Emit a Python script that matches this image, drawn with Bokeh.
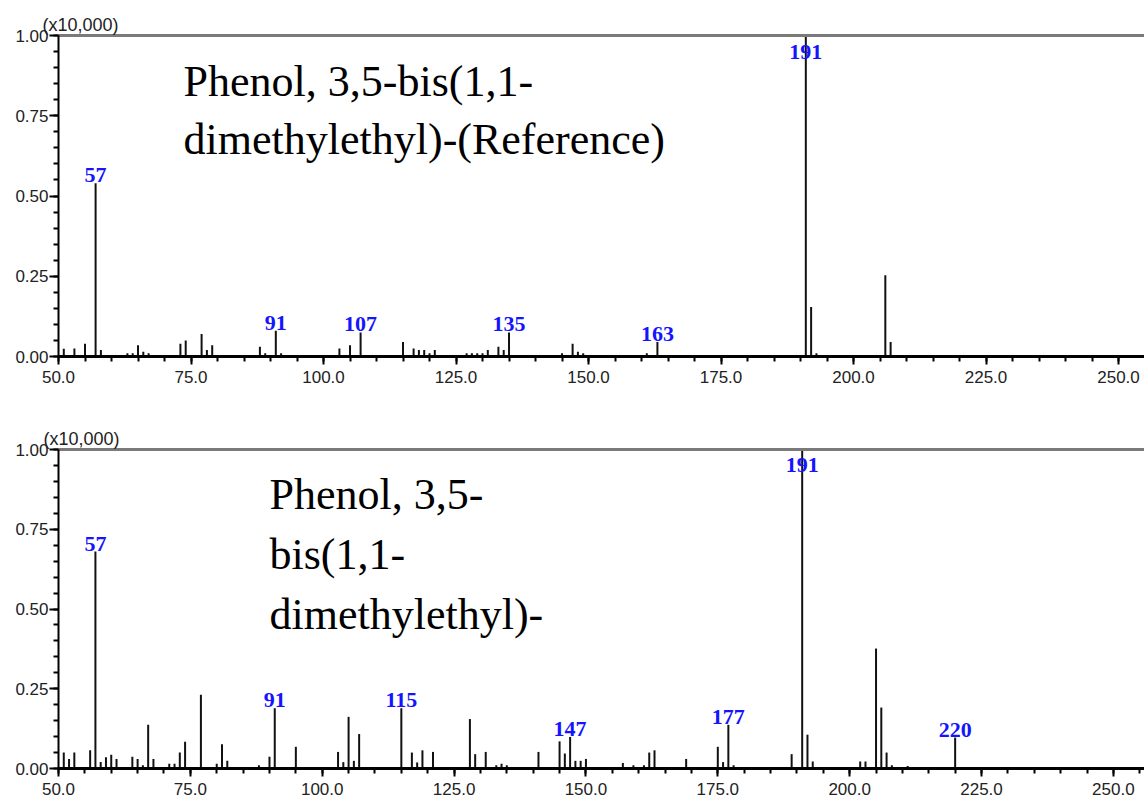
import numpy as np
from bokeh.plotting import figure
from bokeh.models import Range1d, FixedTicker, PrintfTickFormatter, LinearAxis, Label
from bokeh.layouts import column
from bokeh.embed import file_html
from bokeh.resources import INLINE
from bokeh.core.properties import value

# ---------------- data ----------------
top_mz = [51, 53, 55, 57, 58, 63, 64, 65, 66, 67, 73, 74, 77, 78, 79, 88, 89, 91, 92, 103,
          105, 107, 115, 117, 118, 119, 120, 121, 127, 128, 129, 130, 131, 133, 134, 135,
          145, 147, 148, 149, 161, 163, 191, 192, 193, 206, 207]
top_int = [0.024, 0.025, 0.04, 0.54, 0.02, 0.01, 0.01, 0.035, 0.015, 0.01, 0.04, 0.05, 0.07,
           0.02, 0.035, 0.03, 0.01, 0.08, 0.01, 0.025, 0.035, 0.075, 0.045, 0.025, 0.02, 0.02,
           0.01, 0.02, 0.01, 0.01, 0.01, 0.01, 0.02, 0.03, 0.02, 0.075, 0.01, 0.04, 0.015,
           0.01, 0.01, 0.045, 1.0, 0.154, 0.01, 0.253, 0.045]
top_labeled = [57, 91, 107, 135, 163, 191]

bot_mz = [51, 52, 53, 56, 57, 58, 59, 60, 61, 64, 65, 66, 67, 68, 71, 72, 73, 74, 77, 80,
          81, 82, 88, 90, 91, 95, 103, 104, 105, 106, 107, 115, 117, 118, 119, 121, 128, 129,
          131, 133, 134, 135, 141, 145, 146, 147, 148, 149, 150, 157, 159, 161, 162, 163, 169,
          175, 176, 177, 178, 189, 191, 192, 193, 202, 203, 205, 206, 207, 208, 211, 220]
bot_int = [0.05, 0.03, 0.05, 0.057, 0.68, 0.02, 0.035, 0.043, 0.03, 0.037, 0.03, 0.01, 0.137,
           0.03, 0.015, 0.015, 0.05, 0.084, 0.231, 0.015, 0.076, 0.024, 0.01, 0.037, 0.189,
           0.068, 0.052, 0.02, 0.162, 0.024, 0.108, 0.189, 0.05, 0.019, 0.057, 0.052, 0.155,
           0.045, 0.052, 0.01, 0.015, 0.01, 0.052, 0.085, 0.047, 0.099, 0.024, 0.024, 0.03,
           0.017, 0.01, 0.01, 0.05, 0.057, 0.03, 0.068, 0.02, 0.137, 0.01, 0.045, 1.0, 0.106,
           0.022, 0.022, 0.022, 0.376, 0.191, 0.05, 0.01, 0.008, 0.097]
bot_labeled = [57, 91, 115, 147, 177, 191, 220]

x_ticks = [50, 75, 100, 125, 150, 175, 200, 225, 250]
y_ticks = [0.0, 0.25, 0.5, 0.75, 1.0]
scale_note = "(x10,000)"
top_title = ["Phenol, 3,5-bis(1,1-", "dimethylethyl)-(Reference)"]
bot_title = ["Phenol, 3,5-", "bis(1,1-", "dimethylethyl)-"]

SANS = "Liberation Sans"
SERIF = "Liberation Serif"


def make_panel(mz, inten, labeled, title_lines, x_end, b_left, b_top, b_bottom, frame_h,
               title_x, title_y0, title_dy, note_offset):
    p = figure(width=1144, height=b_top + frame_h + b_bottom,
               x_range=Range1d(50, x_end), y_range=Range1d(0, 1.0),
               output_backend="svg", toolbar_location=None,
               min_border_left=b_left, min_border_right=0,
               min_border_top=b_top, min_border_bottom=b_bottom)
    p.outline_line_color = None
    p.xgrid.visible = False
    p.ygrid.visible = False
    p.background_fill_color = "white"

    # scale note as plot title
    p.title.text = scale_note
    p.title.align = "left"
    p.title.offset = note_offset
    p.title.standoff = 1
    p.title.text_font = SANS
    p.title.text_font_size = "18px"
    p.title.text_font_style = "normal"
    p.title.text_color = "#222222"

    # sticks
    p.segment(x0=mz, y0=[0] * len(mz), x1=mz, y1=inten, line_color="#111111", line_width=2)

    # peak labels
    lab_y = [min(inten[mz.index(m)], 0.925) for m in labeled]
    p.text(x=labeled, y=lab_y, text=[str(m) for m in labeled],
           text_align="center", text_baseline="bottom", y_offset=-1,
           text_font=value(SERIF), text_font_style="bold", text_font_size="22px",
           text_color="#1414ff")

    # x axis
    xa = p.xaxis[0]
    xa.ticker = FixedTicker(ticks=x_ticks, minor_ticks=list(np.arange(50, 260, 5)))
    xa.formatter = PrintfTickFormatter(format="%.1f")
    xa.axis_line_width = 3
    xa.axis_line_color = "black"
    xa.major_tick_in = 0
    xa.major_tick_out = 8
    xa.minor_tick_in = 0
    xa.minor_tick_out = 5
    xa.major_tick_line_width = 2
    xa.minor_tick_line_width = 2
    xa.major_label_text_font = SANS
    xa.major_label_text_font_size = "17px"
    xa.major_label_text_color = "#222222"
    xa.major_label_standoff = 6

    # y axis
    ya = p.yaxis[0]
    ya.ticker = FixedTicker(ticks=y_ticks, minor_ticks=list(np.round(np.arange(0, 1.0001, 0.05), 2)))
    ya.formatter = PrintfTickFormatter(format="%.2f")
    ya.axis_line_width = 2
    ya.axis_line_color = "black"
    ya.major_tick_in = 0
    ya.major_tick_out = 9
    ya.minor_tick_in = 0
    ya.minor_tick_out = 5
    ya.major_tick_line_width = 2
    ya.minor_tick_line_width = 2
    ya.major_label_text_font = SANS
    ya.major_label_text_font_size = "17px"
    ya.major_label_text_color = "#222222"
    ya.major_label_standoff = 1

    # top border line
    top_ax = LinearAxis(ticker=FixedTicker(ticks=[]), axis_line_color="#7a7a7a",
                        axis_line_width=3, major_tick_line_color=None,
                        minor_tick_line_color=None, major_label_text_font_size="0px",
                        major_tick_out=0, major_tick_in=0, major_label_standoff=0)
    p.add_layout(top_ax, "above")

    # title
    for i, line in enumerate(title_lines):
        p.add_layout(Label(x=title_x, y=title_y0 - i * title_dy, text=line,
                           text_baseline="alphabetic", text_align="left",
                           text_font=SERIF, text_font_size="44px", text_color="black"))
    return p


p1 = make_panel(top_mz, top_int, top_labeled, top_title, 254.9,
                58, 35, 49, 321, 73.6, 0.857, 0.181, -16)
p2 = make_panel(bot_mz, bot_int, bot_labeled, bot_title, 255.9,
                55, 44, 36, 319, 90.0, 0.858, 0.188, -15)

layout = column(p1, p2, spacing=0)
open("out.html", "w").write(file_html(layout, INLINE))
